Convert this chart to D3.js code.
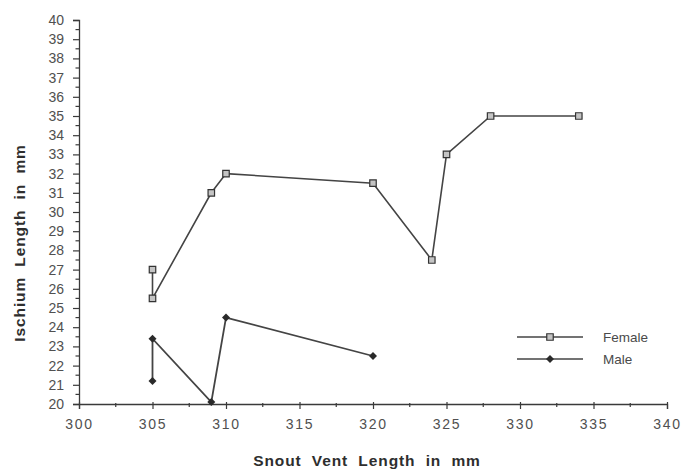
<!DOCTYPE html>
<html>
<head>
<meta charset="utf-8">
<script src="https://cdn.jsdelivr.net/npm/d3@7"></script>
<style>
  body { margin: 0; background: #fff; }
  text { font-family: "Liberation Sans", Arial, sans-serif; fill: #4a4a4a; }
</style>
</head>
<body>
<div id="chart"></div>
<script>
var femaleX = [305, 305, 309, 310, 320, 324, 325, 328, 334];
var femaleY = [27, 25.5, 31, 32, 31.5, 27.5, 33, 35, 35];
var maleX = [305, 305, 309, 310, 320];
var maleY = [21.2, 23.4, 20.1, 24.5, 22.5];
var xTicks = [300, 305, 310, 315, 320, 325, 330, 335, 340];
var yTicks = [20, 21, 22, 23, 24, 25, 26, 27, 28, 29, 30, 31, 32, 33, 34, 35, 36, 37, 38, 39, 40];
var seriesNames = ["Female", "Male"];

const margin = { left: 79, top: 20, right: 16, bottom: 65 };
const width = 683 - margin.left - margin.right;
const height = 469 - margin.top - margin.bottom;
const ink = "#3a3a3a";

const svg = d3
  .select("#chart")
  .append("svg")
  .attr("width", 683)
  .attr("height", 469);

const g = svg
  .append("g")
  .attr("transform", `translate(${margin.left},${margin.top})`);

const xScale = d3.scaleLinear().domain([300, 340]).range([0, width]);
const yScale = d3.scaleLinear().domain([20, 40]).range([height, 0]);

// y axis
const yAxis = d3
  .axisLeft(yScale)
  .tickValues(yTicks)
  .tickSize(6)
  .tickPadding(9)
  .tickFormat((d) => d);

const yG = g.append("g").call(yAxis);
yG.select(".domain").attr("stroke", ink).attr("stroke-width", 1.3);
yG.selectAll(".tick line").attr("stroke", ink).attr("stroke-width", 1.2);
yG.selectAll(".tick text").attr("font-size", 14).style("fill", "#505050");

// y minor ticks
g.append("g")
  .selectAll("line")
  .data(yTicks.slice(0, -1).map((d) => d + 0.5))
  .enter()
  .append("line")
  .attr("x1", -3.5)
  .attr("x2", 0)
  .attr("y1", (d) => yScale(d))
  .attr("y2", (d) => yScale(d))
  .attr("stroke", ink)
  .attr("stroke-width", 1.2);

// x axis
const xAxis = d3
  .axisBottom(xScale)
  .tickValues(xTicks)
  .tickSize(5)
  .tickPadding(10)
  .tickFormat((d) => d);

const xG = g.append("g").attr("transform", `translate(0,${height})`).call(xAxis);
xG.select(".domain").attr("stroke", ink).attr("stroke-width", 1.3);
xG.selectAll(".tick line").attr("stroke", ink).attr("stroke-width", 1.2).attr("y1", -2);
xG.selectAll(".tick text")
  .attr("font-size", 14)
  .attr("letter-spacing", 1.8)
  .style("fill", "#505050");

// x minor ticks
g.append("g")
  .selectAll("line")
  .data(xTicks.slice(0, -1).map((d) => d + 2.5))
  .enter()
  .append("line")
  .attr("x1", (d) => xScale(d))
  .attr("x2", (d) => xScale(d))
  .attr("y1", height - 1)
  .attr("y2", height + 3)
  .attr("stroke", ink)
  .attr("stroke-width", 1.2);

// axis titles
svg
  .append("text")
  .attr("x", 367)
  .attr("y", 466)
  .attr("text-anchor", "middle")
  .attr("font-size", 15.5)
  .attr("font-weight", "bold")
  .attr("word-spacing", 5)
  .attr("letter-spacing", 0.9)
  .style("fill", "#2e2e2e")
  .text("Snout Vent Length in mm");

svg
  .append("text")
  .attr("transform", "translate(25,243) rotate(-90)")
  .attr("text-anchor", "middle")
  .attr("font-size", 15.5)
  .attr("font-weight", "bold")
  .attr("word-spacing", 5)
  .attr("letter-spacing", 0.9)
  .style("fill", "#2e2e2e")
  .text("Ischium Length in mm");

const line = d3
  .line()
  .x((d) => xScale(d[0]))
  .y((d) => yScale(d[1]));

const female = femaleX.map((x, i) => [x, femaleY[i]]);
const male = maleX.map((x, i) => [x, maleY[i]]);

g.append("path")
  .attr("d", line(female))
  .attr("fill", "none")
  .attr("stroke", "#444")
  .attr("stroke-width", 1.6);

g.append("path")
  .attr("d", line(male))
  .attr("fill", "none")
  .attr("stroke", "#444")
  .attr("stroke-width", 1.8);

const squareSym = d3.symbol().type(d3.symbolSquare).size(42);
const diamondSym = d3.symbol().type(d3.symbolSquare).size(32);

g.append("g")
  .selectAll("path")
  .data(female)
  .enter()
  .append("path")
  .attr("d", squareSym)
  .attr("transform", (d) => `translate(${xScale(d[0])},${yScale(d[1])})`)
  .attr("fill", "#c4c4c4")
  .attr("stroke", "#333")
  .attr("stroke-width", 1.2);

g.append("g")
  .selectAll("path")
  .data(male)
  .enter()
  .append("path")
  .attr("d", diamondSym)
  .attr("transform", (d) => `translate(${xScale(d[0])},${yScale(d[1])}) rotate(45)`)
  .attr("fill", "#2a2a2a");

// legend
const legend = svg.append("g").attr("transform", "translate(517,337)");
seriesNames.forEach((name, i) => {
  const row = legend.append("g").attr("transform", `translate(0,${i * 22})`);
  row.append("line")
    .attr("x1", 0)
    .attr("x2", 66)
    .attr("stroke", "#444")
    .attr("stroke-width", 1.6);
  row.append("path")
    .attr("d", i === 0 ? squareSym : diamondSym)
    .attr("transform", i === 0 ? "translate(33,0)" : "translate(33,0) rotate(45)")
    .attr("fill", i === 0 ? "#c4c4c4" : "#2a2a2a")
    .attr("stroke", i === 0 ? "#333" : "none")
    .attr("stroke-width", 1.2);
  row.append("text")
    .attr("x", 86)
    .attr("y", 5)
    .attr("font-size", 13.5)
    .style("fill", "#4a4a4a")
    .text(name);
});
</script>
</body>
</html>
